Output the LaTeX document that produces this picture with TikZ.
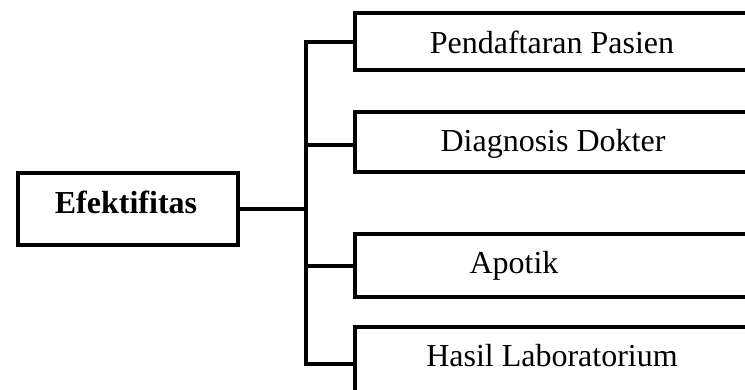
\documentclass[tikz,border=0pt]{standalone}
\usepackage{fontspec}
\setmainfont{Liberation Serif}
\begin{document}
\begin{tikzpicture}[x=1pt,y=-1pt,
  boxstyle/.style={draw=black,line width=4pt,fill=white,rectangle,inner sep=0pt,anchor=north west},
  conn/.style={draw=black,line width=4pt},
  lbl/.style={anchor=base,inner sep=0pt,font=\fontsize{32}{38}\selectfont}]
\useasboundingbox (0,0) rectangle (745,389);
\clip (0,0) rectangle (745,389);
\fill[white] (0,0) rectangle (745,389);
% boxes
\node[boxstyle,minimum width=220pt,minimum height=72pt] (eff) at (16,171) {};
\node[boxstyle,minimum width=420pt,minimum height=57pt] (b1) at (353,11) {};
\node[boxstyle,minimum width=420pt,minimum height=60pt] (b2) at (353,110) {};
\node[boxstyle,minimum width=420pt,minimum height=63pt] (b3) at (353,232) {};
\node[boxstyle,minimum width=420pt,minimum height=74pt] (b4) at (353,325) {};
% texts
\node[lbl,font=\fontsize{32}{38}\selectfont\bfseries] (teff) at (126,213) {Efektifitas};
\node[lbl] (t1) at (552,53) {Pendaftaran Pasien};
\node[lbl] (t2) at (553,151) {Diagnosis Dokter};
\node[lbl] (t3) at (514,273) {Apotik};
\node[lbl] (t4) at (552,366) {Hasil Laboratorium};
% connectors
\coordinate (j) at (306,207);
\coordinate (j2) at (306,145);
\draw[conn] (eff.east) -- (eff.east -| j);
\draw[conn] (b1.west) -| (j) |- (b4.west);
\draw[conn] (j2) -- (b2.west |- j2);
\draw[conn] (b3.west) -- (b3.west -| j);
\end{tikzpicture}
\end{document}
